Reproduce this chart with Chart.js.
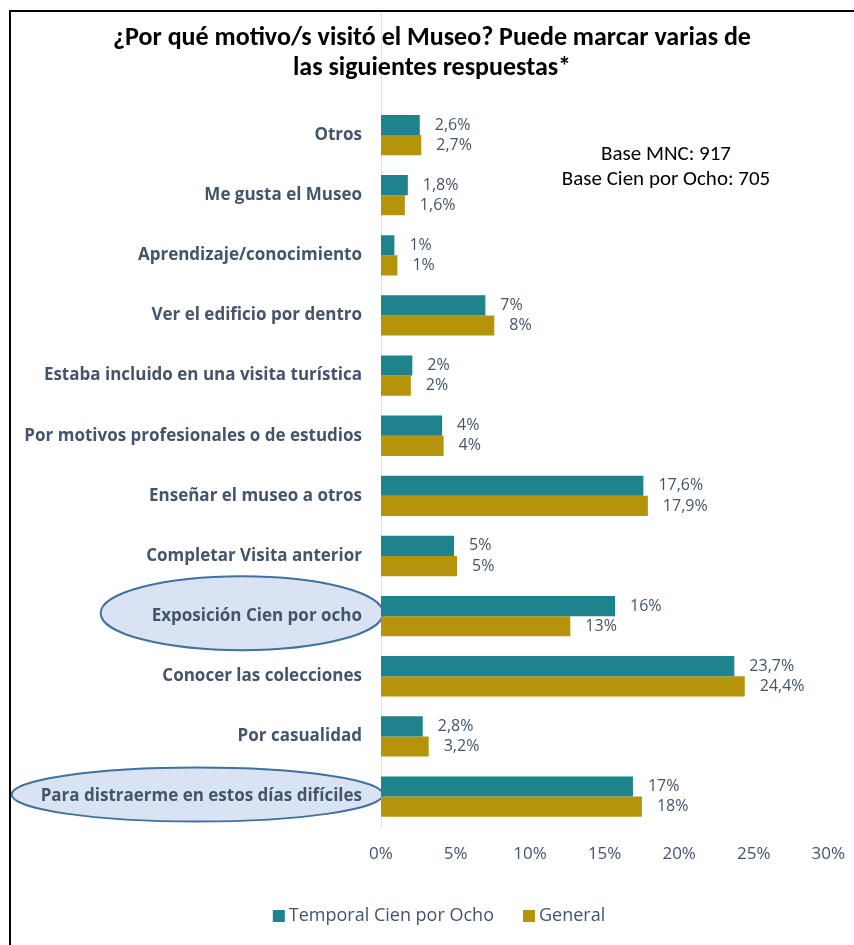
<!DOCTYPE html>
<html>
<head>
<meta charset="utf-8">
<script src="https://cdn.jsdelivr.net/npm/chart.js@4/dist/chart.umd.min.js"></script>
<style>
  html, body { margin: 0; padding: 0; background: #fff; }
  #wrap { position: relative; width: 854px; height: 945px; }
</style>
</head>
<body>
<div id="wrap"><canvas id="chart-motivos" width="854" height="945"></canvas></div>
<script>
const categories = [
    "Otros",
    "Me gusta el Museo",
    "Aprendizaje/conocimiento",
    "Ver el edificio por dentro",
    "Estaba incluido en una visita turística",
    "Por motivos profesionales o de estudios",
    "Enseñar el museo a otros",
    "Completar Visita anterior",
    "Exposición Cien por ocho",
    "Conocer las colecciones",
    "Por casualidad",
    "Para distraerme en estos días difíciles"
];
const temporalValues = [2.6, 1.8, 0.9, 7.0, 2.1, 4.1, 17.6, 4.9, 15.7, 23.7, 2.8, 16.9];
const generalValues = [2.7, 1.6, 1.1, 7.6, 2.0, 4.2, 17.9, 5.1, 12.7, 24.4, 3.2, 17.5];
const temporalLabels = ["2,6%", "1,8%", "1%", "7%", "2%", "4%", "17,6%", "5%", "16%", "23,7%", "2,8%", "17%"];
const generalLabels = ["2,7%", "1,6%", "1%", "8%", "2%", "4%", "17,9%", "5%", "13%", "24,4%", "3,2%", "18%"];
const xTicks = [0, 5, 10, 15, 20, 25, 30];
const highlighted = ["Exposición Cien por ocho", "Para distraerme en estos días difíciles"];
const titleLines = ["¿Por qué motivo/s visitó el Museo? Puede marcar varias de", "las siguientes respuestas*"];
const baseNotes = ["Base MNC: 917", "Base Cien por Ocho: 705"];

const TITLE_FONT = "Carlito, Lato, 'Liberation Sans', sans-serif";
const FONT = "'Open Sans', 'Noto Sans', sans-serif";
const TEXT = "#44546a";
Chart.defaults.font.family = FONT;

// marco, linea del eje, elipses, titulo, etiquetas y leyenda
const decor = {
    id: "decor",
    beforeDraw(chart) {
        const c = chart.ctx;
        const y = chart.scales.y;
        const area = chart.chartArea;
        c.save();
        c.strokeStyle = "#000";
        c.lineWidth = 2;
        c.beginPath();
        c.moveTo(10, chart.height);
        c.lineTo(10, 11);
        c.lineTo(chart.width, 11);
        c.stroke();

        c.strokeStyle = "#dbe2ea";
        c.lineWidth = 1;
        c.beginPath();
        c.moveTo(area.left + 0.5, 12);
        c.lineTo(area.left + 0.5, area.top);
        c.stroke();

        // elipses
        const shapes = [{ pad: 51, dy: -3, ry: 37 }, { pad: 29, dy: -2, ry: 27 }];
        c.font = "bold 17px " + FONT;
        highlighted.forEach((name, k) => {
            const i = categories.indexOf(name);
            const cy = y.getPixelForValue(i) + shapes[k].dy;
            const right = area.left + 2;
            const textW = c.measureText(name).width;
            const left = area.left - 19 - textW - shapes[k].pad;
            c.beginPath();
            c.ellipse((left + right) / 2, cy, (right - left) / 2, shapes[k].ry, 0, 0, Math.PI * 2);
            c.fillStyle = "#dae3f3";
            c.fill();
            c.strokeStyle = "#41719c";
            c.lineWidth = 2;
            c.stroke();
        });

        // titulo
        c.fillStyle = "#000";
        c.font = "bold 26px " + TITLE_FONT;
        c.textAlign = "center";
        c.textBaseline = "middle";
        c.fillText(titleLines[0], 432, 38);
        c.fillText(titleLines[1], 432, 68);
        c.restore();
    },
    afterDatasetsDraw(chart) {
        const c = chart.ctx;
        c.save();
        c.font = "16px " + FONT;
        c.fillStyle = TEXT;
        c.textBaseline = "middle";
        c.textAlign = "left";
        const texts = [temporalLabels, generalLabels];
        chart.data.datasets.forEach((ds, d) => {
            chart.getDatasetMeta(d).data.forEach((bar, i) => {
                c.fillText(texts[d][i], bar.x + 15, bar.y);
            });
        });

        c.fillStyle = "#000";
        c.font = "21px " + TITLE_FONT;
        c.textAlign = "center";
        c.fillText(baseNotes[0], 666, 155);
        c.fillText(baseNotes[1], 666, 180);

        // leyenda
        c.font = "18px " + FONT;
        c.textAlign = "left";
        const items = chart.data.datasets.map(ds => ({ text: ds.label, color: ds.backgroundColor }));
        const widths = items.map(it => 12 + 4 + c.measureText(it.text).width);
        const total = widths.reduce((a, b) => a + b, 0) + 29 * (items.length - 1);
        let x = 439 - total / 2;
        items.forEach((it, k) => {
            c.fillStyle = it.color;
            c.fillRect(x, 910, 12, 12);
            c.fillStyle = TEXT;
            c.fillText(it.text, x + 16, 916);
            x += widths[k] + 29;
        });
        c.restore();
    }
};

new Chart(document.getElementById("chart-motivos"), {
    type: "bar",
    data: {
        labels: categories,
        datasets: [{
            label: "Temporal Cien por Ocho",
            data: temporalValues,
            backgroundColor: "#1e838d",
            categoryPercentage: 0.67,
            barPercentage: 1.0
        }, {
            label: "General",
            data: generalValues,
            backgroundColor: "#b5940c",
            categoryPercentage: 0.67,
            barPercentage: 1.0
        }]
    },
    options: {
        indexAxis: "y",
        responsive: false,
        animation: false,
        layout: { padding: { left: 0, right: 16, top: 105, bottom: 72 } },
        plugins: {
            title: { display: false },
            legend: { display: false },
            tooltip: { enabled: false }
        },
        scales: {
            x: {
                min: xTicks[0],
                max: xTicks[xTicks.length - 1],
                afterBuildTicks: scale => { scale.ticks = xTicks.map(v => ({ value: v })); },
                grid: { display: false },
                border: { display: false },
                ticks: {
                    color: TEXT,
                    font: { size: 17 },
                    padding: 9,
                    callback: value => value + "%"
                }
            },
            y: {
                afterFit: scale => { scale.width = 381; },
                grid: { display: false, drawTicks: false },
                border: { display: true, color: "#dbe2ea" },
                ticks: {
                    color: TEXT,
                    font: { size: 17, weight: "bold" },
                    padding: 19
                }
            }
        }
    },
    plugins: [decor]
});
</script>
</body>
</html>
